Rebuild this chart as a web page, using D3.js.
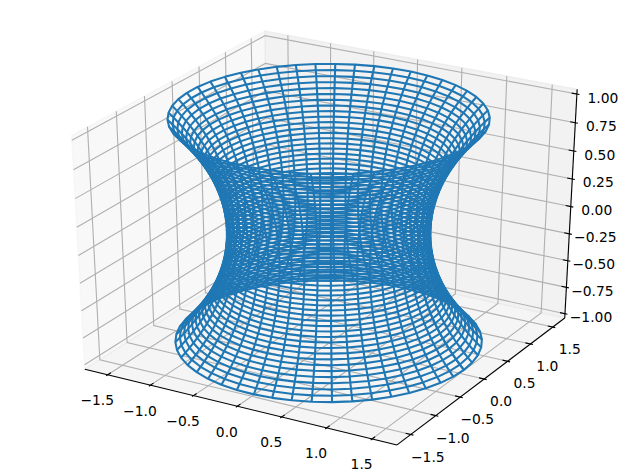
<!DOCTYPE html>
<html>
<head>
<meta charset="utf-8">
<script src="https://d3js.org/d3.v7.min.js"></script>
<style>
body { margin: 0; background: white; }
text { font-family: "DejaVu Sans"; font-size: 13.89px; fill: black; text-anchor: middle; dominant-baseline: central; }
</style>
</head>
<body>
<div id="chart"></div>
<script>
const width = 640, height = 474;

// tick values, same labels on x and y
const xTicks = [-1.5, -1.0, -0.5, 0.0, 0.5, 1.0, 1.5];
const yTicks = [-1.5, -1.0, -0.5, 0.0, 0.5, 1.0, 1.5];
const zTicks = [-1.0, -0.75, -0.5, -0.25, 0.0, 0.25, 0.5, 0.75, 1.0];

// surface: height of each ring, its radius, and the meridian angles
const ringZ = [-1, -0.9592, -0.9184, -0.8776, -0.8367, -0.7959, -0.7551, -0.7143, -0.6735, -0.6327,
	-0.5918, -0.551, -0.5102, -0.4694, -0.4286, -0.3878, -0.3469, -0.3061, -0.2653, -0.2245,
	-0.1837, -0.1429, -0.102, -0.0612, -0.0204,
	0.0204, 0.0612, 0.102, 0.1429, 0.1837,
	0.2245, 0.2653, 0.3061, 0.3469, 0.3878, 0.4286, 0.4694, 0.5102, 0.551, 0.5918,
	0.6327, 0.6735, 0.7143, 0.7551, 0.7959, 0.8367, 0.8776, 0.9184, 0.9592, 1];
const ringRadius = [1.5431, 1.4964, 1.4522, 1.4105, 1.3709, 1.3338, 1.2989, 1.2661, 1.2355, 1.2069,
	1.1803, 1.1557, 1.133, 1.1122, 1.0933, 1.0761, 1.0608, 1.0472, 1.0354, 1.0253,
	1.0169, 1.0102, 1.0052, 1.0019, 1.0002,
	1.0002, 1.0019, 1.0052, 1.0102, 1.0169,
	1.0253, 1.0354, 1.0472, 1.0608, 1.0761, 1.0933, 1.1122, 1.133, 1.1557, 1.1803,
	1.2069, 1.2355, 1.2661, 1.2989, 1.3338, 1.3709, 1.4105, 1.4522, 1.4964, 1.5431];
const meridianDeg = [0, 7.35, 14.69, 22.04, 29.39, 36.73, 44.08, 51.43, 58.78, 66.12,
	73.47, 80.82, 88.16, 95.51, 102.86, 110.2, 117.55, 124.9, 132.24, 139.59,
	146.94, 154.29, 161.63, 168.98, 176.33, 183.67, 191.02, 198.37, 205.71, 213.06,
	220.41, 227.76, 235.1, 242.45, 249.8, 257.14, 264.49, 271.84, 279.18, 286.53,
	293.88, 301.22, 308.57, 315.92, 323.27, 330.61, 337.96, 345.31, 352.65, 360];

const xLim = [-1.7, 1.7], yLim = [-1.7, 1.7], zLim = [-1, 1];

/***** projection: elev 30, azim -60, eye at distance 10 *****/

const dist = 10;
const right = [0.866025, 0.5, 0];
const up = [-0.25, 0.433013, 0.866025];
const toEye = [0.433013, -0.75, 0.5];

const cubeX = d3.scaleLinear().domain(xLim).range([0, 1]);
const cubeY = d3.scaleLinear().domain(yLim).range([0, 1]);
const cubeZ = d3.scaleLinear().domain(zLim).range([0, 1]);
const viewX = d3.scaleLinear().domain([-0.095, 0.09]).range([0, width]);
const viewY = d3.scaleLinear().domain([-0.095, 0.09]).range([height, 0]);

function dot(a, b) { return a[0]*b[0] + a[1]*b[1] + a[2]*b[2]; }

function project(p) {
	const d = [cubeX(p[0]) - 0.5, cubeY(p[1]) - 0.5, cubeZ(p[2]) - 0.5];
	const w = dist - dot(d, toEye);
	return [viewX(dot(d, right) / w), viewY(dot(d, up) / w)];
}

const line3d = d3.line().x(d => project(d)[0]).y(d => project(d)[1]);

// panes reach 1/48 of the range past the limits
const pad = (xLim[1] - xLim[0]) / 48, padZ = (zLim[1] - zLim[0]) / 48;
const x0 = xLim[0] - pad, x1 = xLim[1] + pad;
const y0 = yLim[0] - pad, y1 = yLim[1] + pad;
const z0 = zLim[0] - padZ, z1 = zLim[1] + padZ;
const tickStepXY = (xLim[1] - xLim[0]) / 12;

const svg = d3.select("#chart").append("svg")
	.attr("width", width)
	.attr("height", height)
	.style("display", "block");

/***** panes *****/

const panes = [
	{ color: "#f2f2f2", pts: [[x0, y0, z0], [x0, y1, z0], [x0, y1, z1], [x0, y0, z1]] },
	{ color: "#e6e6e6", pts: [[x0, y1, z0], [x1, y1, z0], [x1, y1, z1], [x0, y1, z1]] },
	{ color: "#ececec", pts: [[x0, y0, z0], [x1, y0, z0], [x1, y1, z0], [x0, y1, z0]] }
];
// left pane .95, back pane .90, floor .925, all at half alpha
svg.append("g").selectAll("path")
	.data(panes)
	.enter()
	.append("path")
	.attr("d", d => line3d(d.pts) + "Z")
	.attr("fill", d => d.color)
	.attr("fill-opacity", 0.5)
	.attr("stroke", d => d.color)
	.attr("stroke-opacity", 0.5)
	.attr("stroke-width", 1.39);

/***** grid *****/

const gridLines = [];
xTicks.forEach(t => gridLines.push([[t, y0, z0], [t, y1, z0], [t, y1, z1]]));
yTicks.forEach(t => gridLines.push([[x1, t, z0], [x0, t, z0], [x0, t, z1]]));
zTicks.forEach(t => gridLines.push([[x0, y0, t], [x0, y1, t], [x1, y1, t]]));

svg.append("g").selectAll("path")
	.data(gridLines)
	.enter()
	.append("path")
	.attr("d", line3d)
	.attr("fill", "none")
	.attr("stroke", "#b0b0b0")
	.attr("stroke-width", 1.11);

/***** axes lines and ticks *****/

const axisLines = [
	[[x0, y0, z0], [x1, y0, z0]],
	[[x1, y0, z0], [x1, y1, z0]],
	[[x1, y1, z0], [x1, y1, z1]]
];
const tickOut = 0.1 * tickStepXY, tickIn = 0.2 * tickStepXY;
xTicks.forEach(t => axisLines.push([[t, y0 - tickOut, z0], [t, y0 + tickIn, z0]]));
yTicks.forEach(t => axisLines.push([[x1 + tickOut, t, z0], [x1 - tickIn, t, z0]]));
zTicks.forEach(t => axisLines.push([[x1 + tickOut, y1, t], [x1 - tickIn, y1, t]]));

svg.append("g").selectAll("path")
	.data(axisLines)
	.enter()
	.append("path")
	.attr("d", line3d)
	.attr("fill", "none")
	.attr("stroke", "black")
	.attr("stroke-width", 1.11);

/***** tick labels *****/

function addLabels(ticks, fmt, where, dx, dy) {
	svg.append("g").selectAll("text")
		.data(ticks)
		.enter()
		.append("text")
		.attr("x", d => project(where(d))[0] + dx)
		.attr("y", d => project(where(d))[1] + dy)
		.text(d => fmt(d).replace("-", "\u2212"));
}
addLabels(xTicks, d3.format(".1f"), t => [t, y0, z0], -10.5, 25.5);
addLabels(yTicks, d3.format(".1f"), t => [x1, t, z0], 17, 22);
addLabels(zTicks, d3.format(".2f"), t => [x1, y1, t], 26, 3.5);

/***** wireframe *****/

const rad = d => d * Math.PI / 180;
const rings = ringZ.map((z, i) => meridianDeg.map(a =>
	[ringRadius[i] * Math.cos(rad(a)), ringRadius[i] * Math.sin(rad(a)), z]));
const meridians = meridianDeg.map(a => ringZ.map((z, i) =>
	[ringRadius[i] * Math.cos(rad(a)), ringRadius[i] * Math.sin(rad(a)), z]));

svg.append("g").selectAll("path")
	.data(rings.concat(meridians))
	.enter()
	.append("path")
	.attr("d", line3d)
	.attr("fill", "none")
	.attr("stroke", "#1f77b4")
	.attr("stroke-width", 2.08)
	.attr("stroke-linejoin", "round");
</script>
</body>
</html>
